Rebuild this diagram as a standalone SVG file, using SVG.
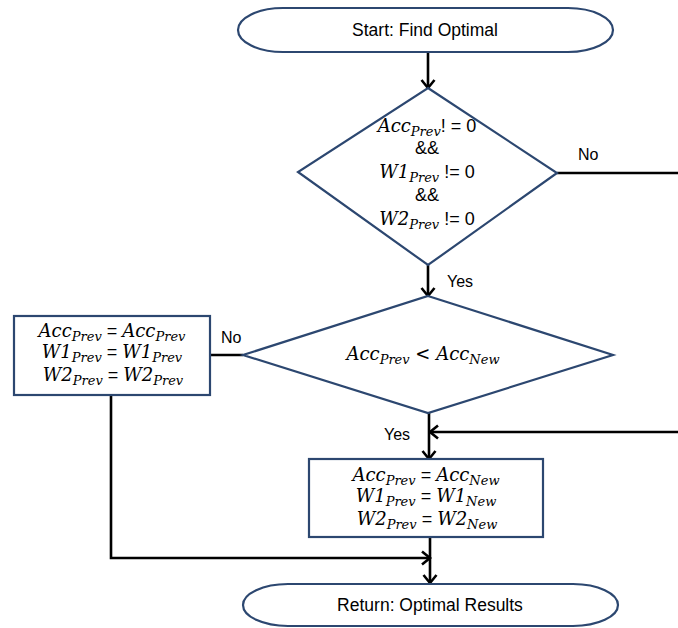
<svg xmlns="http://www.w3.org/2000/svg" width="678" height="628" viewBox="0 0 678 628">
  <style>
    .shape { fill: #ffffff; stroke: #2c4770; stroke-width: 2.2; }
    .link { fill: none; stroke: #000000; stroke-width: 2.6; }
    .t { font-family: "Liberation Sans", "Noto Sans", sans-serif; font-size: 16px; fill: #000; }
    .big { font-size: 17.5px; }
    .m { font-family: "DejaVu Serif", "Liberation Serif", serif; font-style: italic; font-size: 18px; fill: #000; }
    .s { font-size: 13px; }
    .r { font-family: "Liberation Sans", "Noto Sans", sans-serif; font-style: normal; font-size: 18px; }
  </style>
  <defs>
    <marker id="arrow" markerUnits="userSpaceOnUse" markerWidth="16" markerHeight="16" refX="9" refY="8" orient="auto">
      <path d="M1,1.5 L9,8 L1,14.5" fill="none" stroke="#000" stroke-width="2.6"/>
    </marker>
  </defs>

  <!-- connectors -->
  <g id="connectors">
    <path class="link" d="M428,52 V88" marker-end="url(#arrow)"/>
    <path class="link" d="M428,265 V296" marker-end="url(#arrow)"/>
    <path class="link" d="M557,173 H678"/>
    <path class="link" d="M243,355 H210"/>
    <path class="link" d="M429,413 V459" marker-end="url(#arrow)"/>
    <path class="link" d="M678,432 H430" marker-end="url(#arrow)"/>
    <path class="link" d="M430,537 V583" marker-end="url(#arrow)"/>
    <path class="link" d="M111,395 V558 H430" marker-end="url(#arrow)"/>
    <text class="t" x="578" y="160">No</text>
    <text class="t" x="447" y="287">Yes</text>
    <text class="t" x="221" y="343">No</text>
    <text class="t" x="384" y="440">Yes</text>
  </g>

  <!-- start terminal -->
  <g id="start">
    <path class="shape" d="M283,8 H568 A45,22 0 0 1 568,52 H283 A45,22 0 0 1 283,8 Z"/>
    <text class="t big" x="425" y="36" text-anchor="middle">Start: Find Optimal</text>
  </g>

  <!-- first decision: previous values non-zero -->
  <g id="check-nonzero">
    <polygon class="shape" points="428,88 557,173 428,265 298,172"/>
    <text class="m" x="427" y="132" text-anchor="middle">Acc<tspan class="s" dy="4">Prev</tspan><tspan class="r" dy="-4">! = 0</tspan></text>
    <text class="r" x="427" y="154" text-anchor="middle">&amp;&amp;</text>
    <text class="m" x="427" y="178" text-anchor="middle">W1<tspan class="s" dy="4">Prev</tspan><tspan class="r" dy="-4"> != 0</tspan></text>
    <text class="r" x="427" y="201" text-anchor="middle">&amp;&amp;</text>
    <text class="m" x="427" y="225" text-anchor="middle">W2<tspan class="s" dy="4">Prev</tspan><tspan class="r" dy="-4"> != 0</tspan></text>
  </g>

  <!-- second decision: accuracy comparison -->
  <g id="compare-acc">
    <polygon class="shape" points="428,296 613,355 428,413 243,355"/>
    <text class="m" x="423" y="360" text-anchor="middle">Acc<tspan class="s" dy="4">Prev</tspan><tspan dy="-4"> &lt; Acc</tspan><tspan class="s" dy="4">New</tspan></text>
  </g>

  <!-- keep previous values -->
  <g id="keep-prev">
    <rect class="shape" x="14" y="316" width="196" height="79"/>
    <text class="m" x="112" y="337" text-anchor="middle">Acc<tspan class="s" dy="4">Prev</tspan><tspan class="r" dy="-4"> = </tspan>Acc<tspan class="s" dy="4">Prev</tspan></text>
    <text class="m" x="112" y="358" text-anchor="middle">W1<tspan class="s" dy="4">Prev</tspan><tspan class="r" dy="-4"> = </tspan>W1<tspan class="s" dy="4">Prev</tspan></text>
    <text class="m" x="113" y="381" text-anchor="middle">W2<tspan class="s" dy="4">Prev</tspan><tspan class="r" dy="-4"> = </tspan>W2<tspan class="s" dy="4">Prev</tspan></text>
  </g>

  <!-- take new values -->
  <g id="take-new">
    <rect class="shape" x="309" y="459" width="234" height="78"/>
    <text class="m" x="426" y="481" text-anchor="middle">Acc<tspan class="s" dy="4">Prev</tspan><tspan class="r" dy="-4"> = </tspan>Acc<tspan class="s" dy="4">New</tspan></text>
    <text class="m" x="426" y="502" text-anchor="middle">W1<tspan class="s" dy="4">Prev</tspan><tspan class="r" dy="-4"> = </tspan>W1<tspan class="s" dy="4">New</tspan></text>
    <text class="m" x="427" y="525" text-anchor="middle">W2<tspan class="s" dy="4">Prev</tspan><tspan class="r" dy="-4"> = </tspan>W2<tspan class="s" dy="4">New</tspan></text>
  </g>

  <!-- end terminal -->
  <g id="end">
    <path class="shape" d="M288,584 H573 A45,21 0 0 1 573,626 H288 A45,21 0 0 1 288,584 Z"/>
    <text class="t big" x="430" y="611" text-anchor="middle">Return: Optimal Results</text>
  </g>
</svg>
